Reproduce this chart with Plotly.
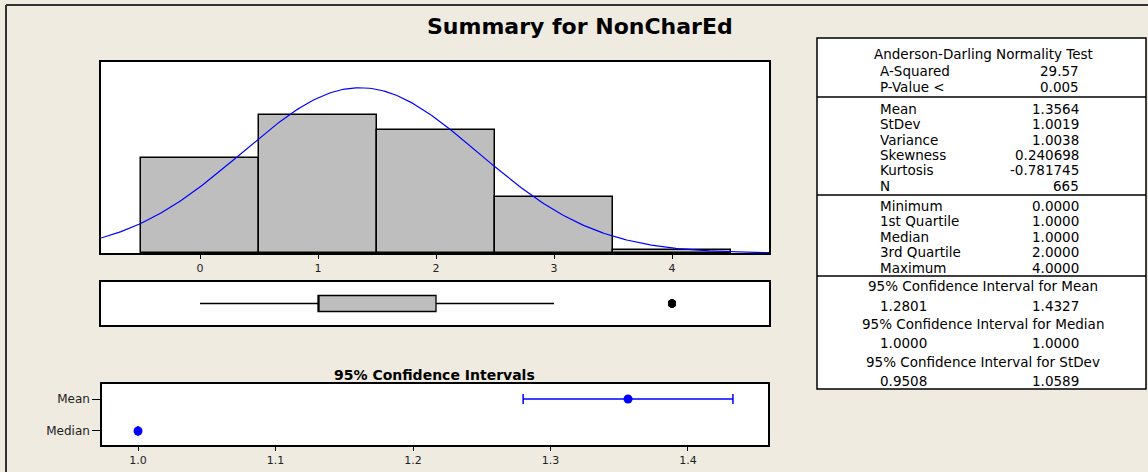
import numpy as np
import plotly.graph_objects as go

bin_values = [0, 1, 2, 3, 4]
bin_counts = [153, 221, 197, 89, 5]

MEAN = 1.3564
STDEV = 1.0019

ci_labels = ["Median", "Mean"]
ci_center = [1.0, 1.3564]
ci_low = [1.0, 1.2801]
ci_high = [1.0, 1.4327]

hist_ticks = [0, 1, 2, 3, 4]
ci_ticks = [1.0, 1.1, 1.2, 1.3, 1.4]
ci_ticktext = ["1.0", "1.1", "1.2", "1.3", "1.4"]

table_blocks = [
    ("Anderson-Darling Normality Test", [("A-Squared", "29.57"), ("P-Value <", "0.005")]),
    (None, [("Mean", "1.3564"), ("StDev", "1.0019"), ("Variance", "1.0038"),
            ("Skewness", "0.240698"), ("Kurtosis", "-0.781745"), ("N", "665")]),
    (None, [("Minimum", "0.0000"), ("1st Quartile", "1.0000"), ("Median", "1.0000"),
            ("3rd Quartile", "2.0000"), ("Maximum", "4.0000")]),
]
ci_table = [
    ("95% Confidence Interval for Mean", "1.2801", "1.4327"),
    ("95% Confidence Interval for Median", "1.0000", "1.0000"),
    ("95% Confidence Interval for StDev", "0.9508", "1.0589"),
]

W, H = 1148, 472
BG = "#EFEBE1"
FONT = "DejaVu Sans"


def px(x):
    return x / W


def py(y):
    return 1 - y / H


def label(text, x, y, size, xanchor="center", bold=False):
    if bold:
        text = "<b>" + text + "</b>"
    return dict(text=text, x=px(x), y=py(y), xref="paper", yref="paper",
                xanchor=xanchor, yanchor="middle", showarrow=False, borderpad=0,
                font=dict(family=FONT, size=size, color="black"))


raw = np.repeat(bin_values, bin_counts)

# fitted normal curve scaled to counts (bin width 1)
xs = np.linspace(-0.84, 4.83, 300)
ys = len(raw) / (STDEV * np.sqrt(2 * np.pi)) * np.exp(-0.5 * ((xs - MEAN) / STDEV) ** 2)

fig = go.Figure()

fig.add_trace(go.Bar(x=bin_values, y=bin_counts, width=1,
                     marker=dict(color="#BEBEBE", line=dict(color="black", width=1.5)),
                     xaxis="x", yaxis="y", showlegend=False))
fig.add_trace(go.Scatter(x=xs, y=ys, mode="lines", line=dict(color="#0000FF", width=1.2),
                         xaxis="x", yaxis="y", showlegend=False))

fig.add_trace(go.Box(x=raw, y0=0, orientation="h", width=0.4, whiskerwidth=0,
                     boxpoints="outliers", jitter=0, pointpos=0,
                     fillcolor="#BEBEBE", line=dict(color="black", width=1.3),
                     marker=dict(color="black", size=8),
                     xaxis="x2", yaxis="y2", showlegend=False))

fig.add_trace(go.Scatter(
    x=ci_center, y=[0, 1], mode="markers",
    marker=dict(color="#0000FF", size=9),
    error_x=dict(type="data", symmetric=False,
                 array=[h - c for h, c in zip(ci_high, ci_center)],
                 arrayminus=[c - l for c, l in zip(ci_center, ci_low)],
                 color="#0000FF", thickness=1.5, width=5),
    xaxis="x3", yaxis="y3", showlegend=False))

frame = dict(showline=True, mirror=True, linecolor="black", linewidth=1.5,
             showgrid=False, zeroline=False)
tickfont = dict(family=FONT, size=11, color="#222")

fig.update_layout(
    width=W, height=H,
    margin=dict(l=0, r=0, t=0, b=0),
    paper_bgcolor=BG, plot_bgcolor="white",
    font=dict(family=FONT, color="black"),
    bargap=0,
    xaxis=dict(domain=[px(101), px(769)], range=[-0.839, 4.822], tickvals=hist_ticks,
               ticks="outside", ticklen=4, tickcolor="black", tickfont=tickfont,
               anchor="y", **frame),
    yaxis=dict(domain=[py(253), py(62)], range=[0, 306], showticklabels=False,
               anchor="x", **frame),
    xaxis2=dict(domain=[px(101), px(769)], range=[-0.839, 4.822], showticklabels=False,
                anchor="y2", **frame),
    yaxis2=dict(domain=[py(325), py(282)], range=[-0.5375, 0.5375], showticklabels=False,
                anchor="x2", **frame),
    xaxis3=dict(domain=[px(102), px(768)], range=[0.9738, 1.4582], tickvals=ci_ticks,
                ticktext=ci_ticktext, ticks="outside", ticklen=4, tickcolor="black",
                tickfont=tickfont, anchor="y3", **frame),
    yaxis3=dict(domain=[py(445), py(384)], range=[-0.44, 1.47], tickvals=[0, 1],
                ticktext=ci_labels, ticks="outside", ticklen=8, tickcolor="black",
                tickfont=dict(family=FONT, size=12, color="#222"), anchor="x3", **frame),
)

shapes = [
    # window frame
    dict(type="line", xref="paper", yref="paper", x0=px(6), x1=1, y0=py(5), y1=py(5),
         line=dict(color="#333", width=2)),
    dict(type="line", xref="paper", yref="paper", x0=px(6), x1=px(6), y0=py(5), y1=0,
         line=dict(color="#333", width=2)),
    # statistics table
    dict(type="rect", xref="paper", yref="paper", x0=px(817), x1=px(1146), y0=py(389), y1=py(38),
         fillcolor="white", line=dict(color="black", width=1.5), layer="below"),
]
for yl in [97, 195, 276]:
    shapes.append(dict(type="line", xref="paper", yref="paper", x0=px(817), x1=px(1146),
                       y0=py(yl), y1=py(yl), line=dict(color="black", width=1.5)))

annotations = [
    label("Summary for NonCharEd", 580, 27, 22, bold=True),
    label("95% Confidence Intervals", 434, 375, 14, bold=True),
]

TS = 13.5
row_y = [[71, 87], [109, 124, 140, 155, 170, 186], [206, 221, 237, 252, 268]]
annotations.append(label(table_blocks[0][0], 983, 54, TS))
for (_, rows), ys_ in zip(table_blocks, row_y):
    for (lab, val), yy in zip(rows, ys_):
        annotations.append(label(lab, 879, yy, TS, xanchor="left"))
        annotations.append(label(val, 1080, yy, TS, xanchor="right"))

ci_rows_y = [(286, 306), (324, 343), (362, 381)]
for (head, lo, hi), (yh, yv) in zip(ci_table, ci_rows_y):
    annotations.append(label(head, 983, yh, TS))
    annotations.append(label(lo, 879, yv, TS, xanchor="left"))
    annotations.append(label(hi, 1080, yv, TS, xanchor="right"))

fig.update_layout(shapes=shapes, annotations=annotations)

fig.write_html("out.html", config={"displayModeBar": False},
               post_script="document.body.style.margin='0';")
